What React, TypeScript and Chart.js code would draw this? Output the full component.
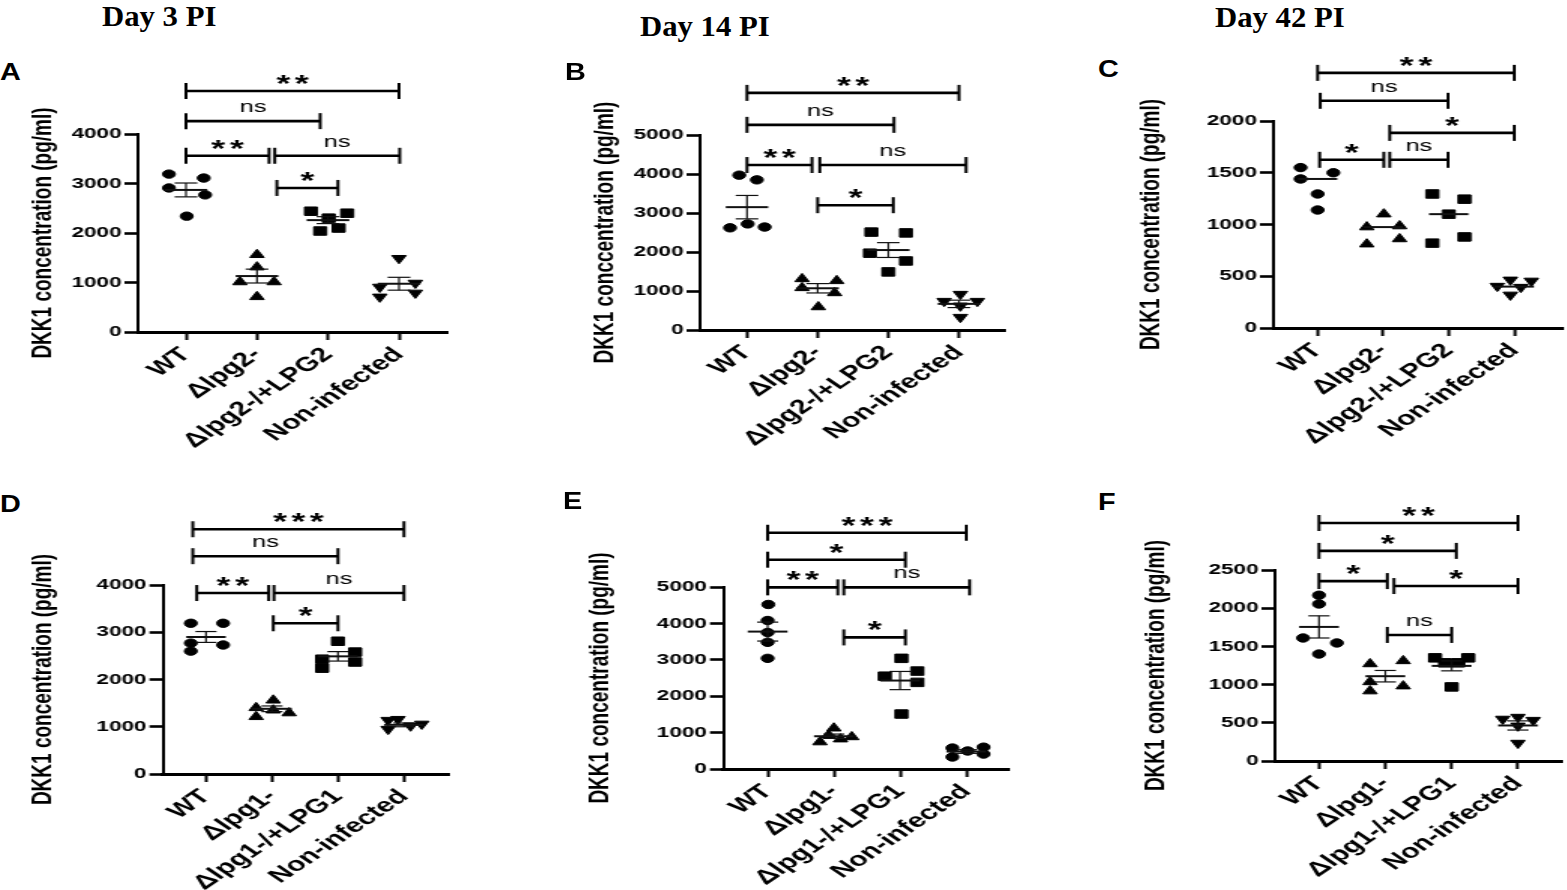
import React, { useEffect, useRef } from 'react';
import { Chart, registerables } from 'chart.js';

Chart.register(...registerables);

const SANS = "'Liberation Sans', Arial, Helvetica, sans-serif";
const SERIF = "'Liberation Serif', 'Times New Roman', serif";
// the panels of the original figure are stretched sideways
const STRETCH = 1.5;

const LABELS_LPG2 = ['WT', 'Δlpg2-', 'Δlpg2-/+LPG2', 'Non-infected'];
const LABELS_LPG1 = ['WT', 'Δlpg1-', 'Δlpg1-/+LPG1', 'Non-infected'];
const MARKERS = ['circle', 'triangle', 'rect', 'down'];
const MARKERS_E = ['circle', 'triangle', 'rect', 'circle'];

// A - day 3, lpg2
const A_VALUES = [
  [3190, 3110, 2910, 2770, 2340],
  [1560, 1310, 1010, 1010, 710],
  [2440, 2400, 2300, 2040, 2100],
  [1490, 910, 990, 710, 790],
];
const A_JITTER = [
  [-0.24, 0.25, -0.24, 0.27, 0.01],
  [0, 0, -0.24, 0.24, 0],
  [-0.24, 0.27, 0.01, -0.11, 0.15],
  [0, -0.27, 0.23, -0.27, 0.23],
];
const A_MEAN = [2870, 1130, 2260, 975];
const A_SEM = [140, 140, 70, 130];
const A_BRACKETS = [
  [0, 3, 4870, '**'],
  [0, 1.89, 4260, 'ns'],
  [0, 1.17, 3560, '**'],
  [1.25, 3.01, 3560, 'ns'],
  [1.28, 2.14, 2910, '*'],
];

// B - day 14, lpg2
const B_VALUES = [
  [3970, 3850, 2620, 2720, 2640],
  [1310, 1260, 1080, 950, 590],
  [2510, 2490, 1970, 1770, 1490],
  [920, 740, 740, 620, 330],
];
const B_JITTER = [
  [-0.11, 0.14, -0.24, 0.01, 0.25],
  [-0.22, 0.27, -0.22, 0.24, 0.01],
  [-0.24, 0.25, -0.26, 0.25, 0],
  [0.02, -0.21, 0.26, 0.02, 0.02],
];
const B_MEAN = [3150, 1070, 2050, 670];
const B_SEM = [300, 120, 190, 95];
const B_BRACKETS = [
  [0, 3, 6080, '**'],
  [0, 2.08, 5260, 'ns'],
  [0, 0.92, 4230, '**'],
  [1.03, 3.1, 4230, 'ns'],
  [1.0, 2.07, 3200, '*'],
];

// C - day 42, lpg2 (median only)
const C_VALUES = [
  [1550, 1440, 1500, 1295, 1140],
  [1100, 975, 985, 810, 860],
  [1295, 1245, 1100, 880, 820],
  [465, 455, 405, 395, 320],
];
const C_JITTER = [
  [-0.26, -0.26, 0.24, 0, 0],
  [0.01, -0.25, 0.25, -0.25, 0.25],
  [-0.25, 0.24, 0, 0.24, -0.25],
  [-0.06, 0.26, -0.26, 0.1, -0.06],
];
const C_MEDIAN = [1440, 975, 1100, 400];
const C_BRACKETS = [
  [0, 3, 2465, '**'],
  [0.04, 1.99, 2195, 'ns'],
  [1.1, 3, 1885, '*'],
  [0.03, 1.01, 1625, '*'],
  [1.1, 1.99, 1625, 'ns'],
];

// D - day 3, lpg1
const D_VALUES = [
  [3190, 3190, 2770, 2730, 2600],
  [1560, 1400, 1350, 1290, 1210],
  [2810, 2430, 2580, 2370, 2240],
  [1140, 1160, 950, 1020, 1060],
];
const D_JITTER = [
  [-0.23, 0.26, -0.23, 0.26, -0.23],
  [0.02, -0.24, 0.02, 0.26, -0.24],
  [0, -0.24, 0.26, 0.26, -0.24],
  [-0.24, -0.09, -0.24, 0.1, 0.27],
];
const D_MEAN = [2900, 1380, 2490, 1040];
const D_SEM = [115, 60, 100, 40];
const D_BRACKETS = [
  [-0.2, 3, 5180, '***'],
  [-0.2, 2, 4610, 'ns'],
  [-0.14, 0.95, 3830, '**'],
  [1.03, 3, 3830, 'ns'],
  [1.02, 2, 3190, '*'],
];

// E - day 14, lpg1
const E_VALUES = [
  [4520, 4080, 3750, 3480, 3040],
  [1120, 740, 930, 820, 880],
  [3040, 2690, 2550, 2380, 1510],
  [575, 330, 495, 600, 410],
];
const E_JITTER = [
  [0.01, 0, 0, 0, 0],
  [0, -0.21, -0.08, 0.1, 0.27],
  [0.02, 0.26, -0.23, 0.26, 0.02],
  [-0.21, -0.21, 0.02, 0.26, 0.26],
];
const E_MEAN = [3775, 900, 2430, 480];
const E_SEM = [260, 60, 250, 50];
const E_BRACKETS = [
  [0, 3, 6490, '***'],
  [0, 2.08, 5750, '*'],
  [0, 1.06, 4990, '**'],
  [1.15, 3.05, 4990, 'ns'],
  [1.15, 2.08, 3615, '*'],
];

// F - day 42, lpg1
const F_VALUES = [
  [2170, 2055, 1610, 1545, 1400],
  [1270, 1310, 1035, 915, 980],
  [1350, 1350, 1285, 1285, 970],
  [550, 575, 535, 460, 235],
];
const F_JITTER = [
  [0, 0, -0.24, 0.27, 0],
  [-0.23, 0.27, -0.23, -0.23, 0.27],
  [-0.25, 0.25, -0.1, 0.1, 0],
  [-0.23, 0, 0.23, 0, 0],
];
const F_MEAN = [1755, 1110, 1245, 465];
const F_SEM = [145, 75, 65, 60];
const F_BRACKETS = [
  [0, 3, 3115, '**'],
  [0, 2.07, 2750, '*'],
  [0, 1.03, 2355, '*'],
  [1.13, 3, 2290, '*'],
  [1.03, 2, 1650, 'ns'],
];

const Y_TITLE = 'DKK1 concentration (pg/ml)';

const PANELS: any[] = [
  { letter: 'A', labels: LABELS_LPG2, yTitle: Y_TITLE, yMax: 4000, yStep: 1000,
    values: A_VALUES, jitter: A_JITTER, centre: A_MEAN, sem: A_SEM, brackets: A_BRACKETS, markers: MARKERS,
    box: { left: 24, top: 40, height: 440, axisX: 138, rightX: 447, topY: 134, zeroY: 332, first: 186, last: 399 },
    letterAt: [0, 60] },
  { letter: 'B', labels: LABELS_LPG2, yTitle: 'DKK1 conccentration (pg/ml)', yMax: 5000, yStep: 1000,
    values: B_VALUES, jitter: B_JITTER, centre: B_MEAN, sem: B_SEM, brackets: B_BRACKETS, markers: MARKERS,
    box: { left: 586, top: 40, height: 440, axisX: 700, rightX: 1005, topY: 135, zeroY: 330, first: 747, last: 959 },
    letterAt: [565, 60] },
  { letter: 'C', labels: LABELS_LPG2, yTitle: Y_TITLE, yMax: 2000, yStep: 500,
    values: C_VALUES, jitter: C_JITTER, centre: C_MEDIAN, sem: null, brackets: C_BRACKETS, markers: MARKERS,
    box: { left: 1132, top: 40, height: 440, axisX: 1273, rightX: 1562, topY: 121, zeroY: 328, first: 1317, last: 1513 },
    letterAt: [1098, 57] },
  { letter: 'D', labels: LABELS_LPG1, yTitle: Y_TITLE, yMax: 4000, yStep: 1000,
    values: D_VALUES, jitter: D_JITTER, centre: D_MEAN, sem: D_SEM, brackets: D_BRACKETS, markers: MARKERS,
    box: { left: 24, top: 470, height: 420, axisX: 163, rightX: 449, topY: 585, zeroY: 774, first: 206, last: 404 },
    letterAt: [0, 492] },
  { letter: 'E', labels: LABELS_LPG1, yTitle: Y_TITLE, yMax: 5000, yStep: 1000,
    values: E_VALUES, jitter: E_JITTER, centre: E_MEAN, sem: E_SEM, brackets: E_BRACKETS, markers: MARKERS_E,
    box: { left: 581, top: 470, height: 420, axisX: 723, rightX: 1008, topY: 587, zeroY: 769, first: 767, last: 965 },
    letterAt: [563, 489] },
  { letter: 'F', labels: LABELS_LPG1, yTitle: Y_TITLE, yMax: 2500, yStep: 500,
    values: F_VALUES, jitter: F_JITTER, centre: F_MEAN, sem: F_SEM, brackets: F_BRACKETS, markers: MARKERS,
    box: { left: 1137, top: 470, height: 420, axisX: 1275, rightX: 1562, topY: 570, zeroY: 761, first: 1319, last: 1518 },
    letterAt: [1098, 490] },
];

const DAYS = [
  { text: 'Day 3 PI', left: 102, top: 2 },
  { text: 'Day 14 PI', left: 640, top: 12 },
  { text: 'Day 42 PI', left: 1215, top: 3 },
];

const RIGHT_PAD = 12;

function seg(ctx: CanvasRenderingContext2D, x1: number, y1: number, x2: number, y2: number) {
  ctx.beginPath();
  ctx.moveTo(x1, y1);
  ctx.lineTo(x2, y2);
  ctx.stroke();
}

// mean / SEM marks and the significance brackets
const overlay = (p: any) => ({
  id: 'overlay' + p.letter,
  afterDatasetsDraw(chart: any) {
    const { ctx, scales: { x, y } } = chart;
    ctx.save();
    ctx.strokeStyle = '#111';
    p.centre.forEach((m: number, i: number) => {
      const ym = y.getPixelForValue(m);
      ctx.lineWidth = 2;
      seg(ctx, x.getPixelForValue(i - 0.3), ym, x.getPixelForValue(i + 0.3), ym);
      if (p.sem) {
        const hi = y.getPixelForValue(m + p.sem[i]);
        const lo = y.getPixelForValue(m - p.sem[i]);
        const xc = x.getPixelForValue(i);
        ctx.lineWidth = 1.2;
        seg(ctx, xc, hi, xc, lo);
        seg(ctx, x.getPixelForValue(i - 0.16), hi, x.getPixelForValue(i + 0.16), hi);
        seg(ctx, x.getPixelForValue(i - 0.16), lo, x.getPixelForValue(i + 0.16), lo);
      }
    });
    ctx.restore();
  },
  afterDraw(chart: any) {
    const { ctx, scales: { x, y } } = chart;
    ctx.save();
    ctx.strokeStyle = '#000';
    ctx.fillStyle = '#000';
    ctx.textAlign = 'center';
    ctx.textBaseline = 'alphabetic';
    p.brackets.forEach(([a, b, v, label]: any) => {
      const x1 = x.getPixelForValue(a);
      const x2 = x.getPixelForValue(b);
      const yy = y.getPixelForValue(v);
      ctx.lineWidth = 2.6;
      seg(ctx, x1, yy, x2, yy);
      ctx.lineWidth = 2;
      seg(ctx, x1, yy - 8, x1, yy + 8);
      seg(ctx, x2, yy - 8, x2, yy + 8);
      const mid = (x1 + x2) / 2;
      if (label.includes('*')) {
        ctx.font = `bold 24px ${SANS}`;
        (ctx as any).letterSpacing = '3px';
        ctx.fillText(label, mid + 1.5, yy + 1);
        (ctx as any).letterSpacing = '0px';
      } else {
        ctx.font = `17px ${SANS}`;
        ctx.fillText(label, mid, yy - 9);
      }
    });
    ctx.restore();
  },
});

const Panel = ({ p }: { p: any }) => {
  const ref = useRef<HTMLCanvasElement | null>(null);
  const b = p.box;
  const width = (b.rightX - b.left) / STRETCH + RIGHT_PAD;

  useEffect(() => {
    if (!ref.current) return;
    const sp = (b.last - b.first) / 3;
    const xMin = -(b.first - b.axisX) / sp;
    const xMax = 3 + (b.rightX - b.last) / sp;
    const yWidth = (b.axisX - b.left) / STRETCH;
    const xHeight = b.height - (b.zeroY - b.top);

    const chart = new Chart(ref.current, {
      type: 'scatter',
      data: {
        datasets: p.values.map((vals: number[], i: number) => {
          const m = p.markers[i];
          return {
            data: vals.map((v, j) => ({ x: i + p.jitter[i][j], y: v })),
            pointStyle: m === 'down' ? 'triangle' : m,
            pointRotation: m === 'down' ? 180 : 0,
            pointRadius: m === 'circle' ? 4.2 : m === 'rect' ? 6 : 5.5,
            pointBackgroundColor: '#000',
            pointBorderColor: '#000',
            pointBorderWidth: 1,
          };
        }),
      },
      options: {
        animation: false,
        responsive: true,
        maintainAspectRatio: false,
        events: [],
        layout: { padding: { top: b.topY - b.top, right: RIGHT_PAD, left: 0, bottom: 0 } },
        plugins: { legend: { display: false }, tooltip: { enabled: false } },
        scales: {
          x: {
            type: 'linear',
            min: xMin,
            max: xMax,
            afterBuildTicks: (s: any) => { s.ticks = [0, 1, 2, 3].map((v) => ({ value: v })); },
            afterFit: (s: any) => { s.height = xHeight; },
            ticks: {
              callback: (v: any) => p.labels[v] ?? '',
              autoSkip: false,
              minRotation: 45,
              maxRotation: 45,
              padding: 3,
              color: '#000',
              font: { family: SANS, size: 20, weight: 'bold' },
            },
            grid: { drawOnChartArea: false, drawTicks: true, tickLength: 8, tickColor: '#000', tickWidth: 2 },
            border: { display: true, color: '#000', width: 3 },
          },
          y: {
            min: 0,
            max: p.yMax,
            afterFit: (s: any) => { s.width = yWidth; },
            ticks: {
              stepSize: p.yStep,
              callback: (v: any) => String(v),
              padding: 2,
              color: '#000',
              font: { family: SANS, size: 15, weight: 'bold' },
            },
            grid: { drawOnChartArea: false, drawTicks: true, tickLength: 9, tickColor: '#000', tickWidth: 2.6 },
            border: { display: true, color: '#000', width: 2 },
            title: {
              display: true,
              text: p.yTitle,
              color: '#000',
              padding: { top: 1, bottom: 0 },
              font: { family: SANS, size: 19, weight: 'bold' },
            },
          },
        },
      },
      plugins: [overlay(p)],
    } as any);

    return () => chart.destroy();
  }, []);

  return (
    <div
      style={{
        position: 'absolute',
        left: b.left,
        top: b.top,
        width,
        height: b.height,
        transform: `scaleX(${STRETCH})`,
        transformOrigin: '0 0',
      }}
    >
      <canvas ref={ref} />
    </div>
  );
};

export default function App() {
  return (
    <div style={{ position: 'absolute', left: 0, top: 0, width: 1567, height: 890, overflow: 'hidden', background: '#fff' }}>
      {DAYS.map((d) => (
        <div
          key={d.text}
          style={{
            position: 'absolute', left: d.left, top: d.top, font: `bold 29px ${SERIF}`, lineHeight: '29px',
            whiteSpace: 'nowrap', transform: 'scaleX(1.06)', transformOrigin: '0 0', color: '#000',
          }}
        >
          {d.text}
        </div>
      ))}
      {PANELS.map((p) => (
        <React.Fragment key={p.letter}>
          <Panel p={p} />
          <div
            style={{
              position: 'absolute', left: p.letterAt[0], top: p.letterAt[1], font: `bold 24px ${SANS}`,
              lineHeight: '24px', color: '#000', transform: 'scaleX(1.2)', transformOrigin: '0 0',
            }}
          >
            {p.letter}
          </div>
        </React.Fragment>
      ))}
    </div>
  );
}
